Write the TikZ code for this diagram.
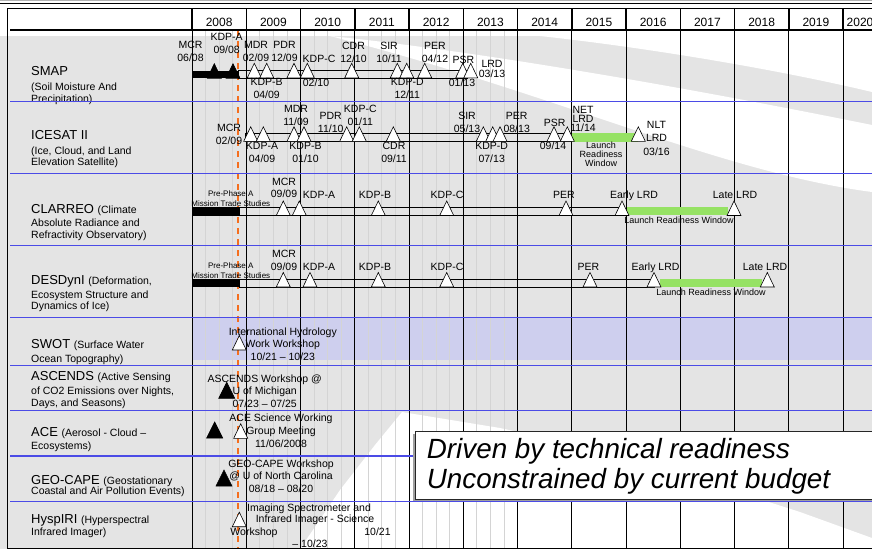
\documentclass[tikz,border=0pt]{standalone}
\usepackage{fontspec}
\setmainfont{Liberation Sans}
\definecolor{bggray}{RGB}{228,228,228}
\definecolor{rowblue}{RGB}{75,75,230}
\definecolor{lav}{RGB}{206,207,238}
\definecolor{lrwgreen}{RGB}{150,226,100}
\definecolor{orangedash}{RGB}{245,110,30}
\definecolor{qline}{RGB}{212,212,212}
\newcommand\mstri[3][ms]{\path[#1] (#2-7,#3) -- (#2,#3-14.5) -- (#2+7,#3) -- cycle;}
\newcommand\mstriL[3][msb]{\path[#1] (#2-8,#3) -- (#2,#3-16) -- (#2+8,#3) -- cycle;}
\newcommand\bign{\fontsize{13}{15}\selectfont}
\newcommand\descf{\fontsize{10.5}{11.7}\selectfont}
\begin{document}
\begin{tikzpicture}[x=1pt,y=-1pt,
 ms/.style={draw=black,fill=white,line width=0.6pt},
 msb/.style={draw=black,fill=black,line width=0.6pt},
 lbl/.style={inner sep=0pt,align=center,font=\fontsize{10.5}{13}\selectfont},
 sl/.style={lbl,anchor=base},
 tinylbl/.style={inner sep=0pt,align=center,font=\fontsize{8}{10}\selectfont},
 smalllbl/.style={inner sep=0pt,align=center,font=\fontsize{9}{9.2}\selectfont},
 pname/.style={inner sep=0pt,anchor=base west},
 yr/.style={inner sep=0pt,font=\fontsize{12}{14}\selectfont},
 lane/.style={draw=black,line width=0.6pt},
 blkbar/.style={fill=black},
 lrw/.style={fill=lrwgreen},
 rowline/.style={draw=rowblue,line width=1.3pt},
 yline/.style={draw=black,line width=0.9pt},
]
\useasboundingbox (0,0) rectangle (872,549);
% background swoosh
\fill[white] (0,0) rectangle (872,549);
\fill[bggray] (0,36) rectangle (872,549);
\fill[white] (330,36) .. controls (450,48) and (650,80) .. (872,125)
   -- (872,192) .. controls (720,172) and (560,95) .. (330,36) -- cycle;
\fill[white] (540,36) .. controls (650,48) and (780,70) .. (872,92) -- (872,36) -- cycle;
\fill[white] (402,412) -- (500,428) -- (600,450) -- (700,480) -- (800,512) -- (872,538)
   -- (872,549) -- (300,549) -- (340,490) -- (375,445) -- cycle;
% top slide lines
\draw[gray!60,line width=0.8pt] (0,0.8) -- (872,0.8);
\draw[black,line width=1pt] (0,3.5) -- (872,3.5);
% SWOT band
\fill[lav] (192,318) rectangle (872,360);
% quarter lines
\foreach \k in {0,...,5}{\foreach \q in {1,2,3}{
  \draw[qline,line width=0.8pt] ({192+54.25*(\k+\q/4)},30) -- ({192+54.25*(\k+\q/4)},548);}}
% orange dashed line
\draw[draw=orangedash,line width=1.8pt,dash pattern=on 6pt off 5pt] (237.7,30) -- (237.7,548);
% year lines
\foreach \k in {0,...,12}{
  \draw[yline] ({192+54.25*\k},8) -- ({192+54.25*\k},548);
  \draw[line width=1.5pt] ({192+54.25*\k},8) -- ({192+54.25*\k},30);}
% frame
\draw[black,line width=1pt] (872,8) -- (7,8) -- (7,548) -- (872,548);
\draw[black,line width=2pt] (10,30) -- (872,30);
% year labels
\foreach \yy in {2008,...,2019}
  \node[yr] (yr\yy) at ({192+54.25*(\yy-2008+0.5)},22) {\yy};
\node[yr,anchor=west] (yr2020) at (846.5,22) {2020};
% left column
\node[pname] (nsmap) at (31,75.7) {\bign SMAP};
\node[pname] (dsmapa) at (31,90.5) {\descf (Soil Moisture And};
\node[pname] (dsmapb) at (31,102.1) {\descf Precipitation)};
\node[pname] (nice) at (31,139.7) {\bign ICESAT II};
\node[pname] (dicea) at (31,154.5) {\descf (Ice, Cloud, and Land};
\node[pname] (diceb) at (31,165.5) {\descf Elevation Satellite)};
\node[pname] (nclar) at (31,213) {\bign CLARREO \descf(Climate};
\node[pname] (dclara) at (31,226.1) {\descf Absolute Radiance and};
\node[pname] (dclarb) at (31,238.1) {\descf Refractivity Observatory)};
\node[pname] (ndesd) at (31,284) {\bign DESDynI \descf(Deformation,};
\node[pname] (ddesda) at (31,298.1) {\descf Ecosystem Structure and};
\node[pname] (ddesdb) at (31,309.8) {\descf Dynamics of Ice)};
\node[pname] (nswot) at (31,348) {\bign SWOT \descf(Surface Water};
\node[pname] (dswota) at (31,362.1) {\descf Ocean Topography)};
\node[pname] (nasc) at (31,380.7) {\bign ASCENDS \descf(Active Sensing};
\node[pname] (dasca) at (31,394.5) {\descf of CO2 Emissions over Nights,};
\node[pname] (dascb) at (31,406.1) {\descf Days, and Seasons)};
\node[pname] (nace) at (31,436.2) {\bign ACE \descf(Aerosol - Cloud --};
\node[pname] (dacea) at (31,449.8) {\descf Ecosystems)};
\node[pname] (ngeo) at (31,484) {\bign GEO-CAPE \descf(Geostationary};
\node[pname] (dgeoa) at (31,494.8) {\descf Coastal and Air Pollution Events)};
\node[pname] (nhys) at (31,523.7) {\bign HyspIRI \descf(Hyperspectral};
\node[pname] (dhysa) at (31,535.5) {\descf Infrared Imager)};
% bars, lanes, green windows
\draw[lane] (238,70.3) rectangle (467,77.8);
\fill[blkbar] (192,70.7) rectangle (238,78.2);
\draw[lane] (245,133.3) rectangle (572,141.3);
\fill[lrw] (572,133.3) rectangle (638,142.3);
\draw[lane] (239,207.3) rectangle (622,215.5);
\fill[blkbar] (192,206.7) rectangle (239.3,215.7);
\fill[lrw] (626.7,207.3) rectangle (728.3,215.3);
\draw[lane] (239,279.3) rectangle (654,287);
\fill[blkbar] (192,279) rectangle (239.3,287.3);
\fill[lrw] (660,279.3) rectangle (761.7,287);
% triangles
\mstri[msb]{214.3}{78.2}
\mstri[msb]{233}{78.2}
\foreach \x in {254.3,266.7,294,307.3,351.7,397.3,406.7,424.7,462.7,470.7} {\mstri{\x}{77.8}}
\foreach \x in {250.7,263.3,294,304,346.7,359.3,393.3,483.3,492.7,500,554,567.3,638.3} {\mstri{\x}{141.3}}
\foreach \x in {283.3,299.3,378.3,446.7,566,622,734} {\mstri{\x}{215.5}}
\foreach \x in {283.3,310,378.3,446.7,590,654,767.3} {\mstri{\x}{287}}
\mstri{239.3}{350}
\mstriL{226.7}{398.3}
\mstriL{214.7}{438}
\mstri{240.7}{438.3}
\mstriL{224}{486}
\mstri{239.3}{526.7}
% SMAP labels
\node[lbl] (s1) at (190.5,51.5) {MCR\\06/08};
\node[lbl] (s2) at (226.7,43.8) {KDP-A\\09/08};
\node[lbl] (s3) at (256,51.5) {MDR\\02/09};
\node[lbl] (s4) at (266.7,88.3) {KDP-B\\04/09};
\node[lbl] (s5) at (284.5,51.5) {PDR\\12/09};
\node[sl] (s6) at (319,62.8) {KDP-C};
\node[sl] (s7) at (316,86.5) {02/10};
\node[lbl] (s8) at (353.5,52) {CDR\\12/10};
\node[lbl] (s9) at (389,52) {SIR\\10/11};
\node[lbl] (s10) at (407.3,88.5) {KDP-D\\12/11};
\node[lbl] (s11) at (435,52) {PER\\04/12};
\node[sl] (s12) at (463.3,63.1) {PSR};
\node[sl] (s13) at (462,86.5) {01/13};
\node[lbl,font=\fontsize{10.5}{10}\selectfont] (s14) at (492,69) {LRD\\03/13};
% ICESAT labels
\node[lbl] (i1) at (229,134.3) {MCR\\02/09};
\node[lbl] (i2) at (262,152.2) {KDP-A\\04/09};
\node[lbl] (i3) at (296,115.8) {MDR\\11/09};
\node[lbl] (i4) at (305.5,152.5) {KDP-B\\01/10};
\node[lbl] (i5) at (330.7,122.8) {PDR\\11/10};
\node[lbl] (i6) at (360.3,115.8) {KDP-C\\01/11};
\node[lbl] (i7) at (394,152) {CDR\\09/11};
\node[lbl] (i8) at (467,122.8) {SIR\\05/13};
\node[lbl] (i9) at (491.7,152.3) {KDP-D\\07/13};
\node[lbl] (i10) at (516.7,122.3) {PER\\08/13};
\node[sl] (i11) at (554.7,126.1) {PSR};
\node[sl] (i12) at (553,149.8) {09/14};
\node[lbl,font=\fontsize{10.5}{9.2}\selectfont] (i13) at (583,119.2) {NET\\LRD\\11/14};
\node[lbl,font=\fontsize{10.5}{13.3}\selectfont] (i14) at (656.5,138.3) {NLT\\LRD\\03/16};
\node[smalllbl] (i15) at (601,154.2) {Launch\\Readiness\\Window};
% CLARREO labels
\node[tinylbl] (c1) at (230.8,198.3) {Pre-Phase A\\Mission Trade Studies};
\node[lbl,font=\fontsize{10.5}{11.7}\selectfont] (c2) at (284,188.2) {MCR\\09/09};
\node[sl] (c3) at (319,198.8) {KDP-A};
\node[sl] (c4) at (375,198.8) {KDP-B};
\node[sl] (c5) at (447,198.8) {KDP-C};
\node[sl] (c6) at (564,198.8) {PER};
\node[sl] (c7) at (634,198.8) {Early LRD};
\node[sl] (c8) at (735,198.8) {Late LRD};
\node[smalllbl,anchor=base] (c9) at (679,223.9) {Launch Readiness Window};
% DESDynI labels
\node[tinylbl] (d1) at (230.8,270.5) {Pre-Phase A\\Mission Trade Studies};
\node[lbl] (d2) at (284,260) {MCR\\09/09};
\node[sl] (d3) at (319,270.5) {KDP-A};
\node[sl] (d4) at (375,270.5) {KDP-B};
\node[sl] (d5) at (447,270.5) {KDP-C};
\node[sl] (d6) at (588.3,270.5) {PER};
\node[sl] (d7) at (655.5,270.5) {Early LRD};
\node[sl] (d8) at (765,270.5) {Late LRD};
\node[smalllbl,anchor=base] (d9) at (711,295.9) {Launch Readiness Window};
% workshop labels
\node[lbl,font=\fontsize{10.5}{12.5}\selectfont] (w1) at (282.8,344.2) {International Hydrology\\Work Workshop\\10/21 -- 10/23};
\node[lbl,font=\fontsize{10.5}{12.8}\selectfont] (w2) at (264.7,391.1) {ASCENDS Workshop @\\U of Michigan\\07/23 -- 07/25};
\node[lbl,font=\fontsize{10.5}{13}\selectfont] (w3) at (281,430.3) {ACE Science Working\\Group Meeting\\11/06/2008};
\node[lbl,font=\fontsize{10.5}{12.5}\selectfont] (w4) at (281,475.8) {GEO-CAPE Workshop\\@ U of North Carolina\\08/18 -- 08/20};
\node[sl] (w5) at (309,511.1) {Imaging Spectrometer and};
\node[sl] (w6) at (315,522.8) {Infrared Imager - Science};
\node[sl] (w7) at (254,535.5) {Workshop};
\node[sl] (w8) at (377.5,535.5) {10/21};
\node[sl] (w9) at (310,547.8) {-- 10/23};
% row separators
\foreach \yy in {101.7,173.3,245.7,317.7,365.3,410.7}
  \draw[rowline] (10,\yy) -- (872,\yy);
\draw[rowline] (10,456) -- (416,456);
\draw[rowline] (10,501.7) -- (872,501.7);
% text box
\fill[gray!75] (413,433.5) rectangle (880,500.8);
\draw[fill=white,draw=black!85,line width=0.6pt] (415,431.7) rectangle (880,499.3);
\node[anchor=base west,inner sep=0pt,font=\fontsize{27.8}{30}\selectfont\itshape] (tb1) at (426.7,458.3) {Driven by technical readiness};
\node[anchor=base west,inner sep=0pt,font=\fontsize{27.8}{30}\selectfont\itshape] (tb2) at (426.7,488.3) {Unconstrained by current budget};
\end{tikzpicture}
\end{document}
